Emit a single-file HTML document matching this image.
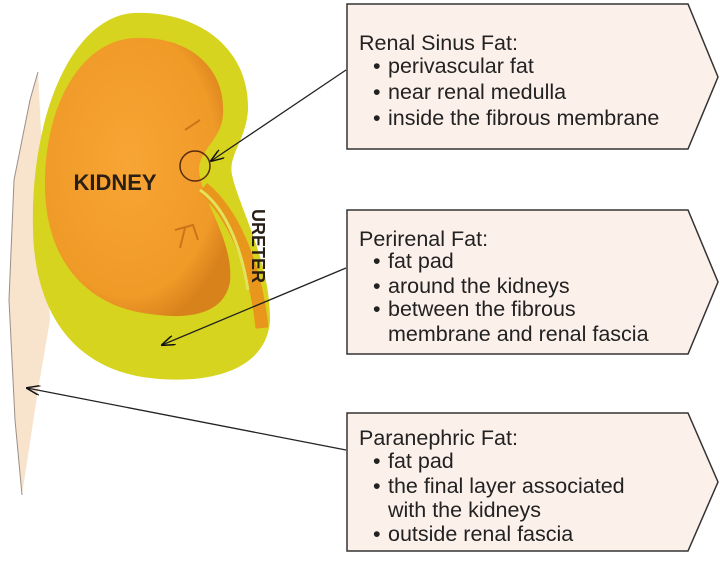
<!DOCTYPE html>
<html><head><meta charset="utf-8"><style>
html,body{margin:0;padding:0;background:#fff}
svg{display:block}
text{font-family:"Liberation Sans",Arial,sans-serif}
</style></head><body>
<svg width="720" height="561" viewBox="0 0 720 561" xmlns="http://www.w3.org/2000/svg">
<defs>
<marker id="ah" markerWidth="14" markerHeight="10" refX="13" refY="5" orient="auto" markerUnits="userSpaceOnUse">
<path d="M0,0 L14,5 L0,10" fill="none" stroke="#111" stroke-width="1.5"/>
</marker>
<radialGradient id="og" cx="0.45" cy="0.45" r="0.6">
<stop offset="0" stop-color="#f7a535"/><stop offset="0.8" stop-color="#f09a28"/><stop offset="1" stop-color="#d8821c"/>
</radialGradient>
</defs>
<polygon points="38,72 30,100 14,180 9,300 15,420 22,495 38,390 50,320 46,250 42,150" fill="#f8e3cd"/>
<path d="M38,72 30,100 14,180 9,300 15,420 22,495" fill="none" stroke="#9a8f88" stroke-width="1"/>
<path d="M133,13 C200,10 250,50 248,110 C246,140 228,155 232,175 C240,210 270,260 270,320 C267,370 210,385 150,378 C80,370 35,320 33,230 C30,120 70,18 133,13 Z" fill="#d6d41e"/>
<path d="M135,38 C192,36 226,70 223,115 C221,140 199,150 199,170 C201,200 234,240 230,282 C224,314 190,320 150,314 C88,307 47,262 45,190 C43,108 80,40 135,38 Z" fill="url(#og)"/>
<path d="M203,188 C230,210 255,260 262,328" fill="none" stroke="#e8961c" stroke-width="13"/>
<path d="M200,190 C222,205 240,240 248,290" fill="none" stroke="#e4e25a" stroke-width="3"/>
<path d="M185,130 l15,-10 M175,230 l18,-5 l5,15 M185,228 l-5,20" stroke="#c97518" stroke-width="2" fill="none"/>
<circle cx="195" cy="166" r="15" fill="none" stroke="#5a2a10" stroke-width="1.5"/>
<text x="115" y="190" font-size="22" font-weight="bold" fill="#2a1f15" text-anchor="middle">KIDNEY</text>
<text transform="translate(252,246) rotate(90)" font-size="18" font-weight="bold" fill="#2a1f15" text-anchor="middle">URETER</text>
<line x1="346" y1="70" x2="211" y2="161" stroke="#222" stroke-width="1.3" marker-end="url(#ah)"/>
<line x1="346" y1="268" x2="162" y2="345" stroke="#222" stroke-width="1.3" marker-end="url(#ah)"/>
<line x1="346" y1="450" x2="27" y2="388" stroke="#222" stroke-width="1.3" marker-end="url(#ah)"/>
<g fill="#fcf0ea" stroke="#333" stroke-width="1.5">
<polygon points="347,4 688,4 718,77 688,149 347,149"/>
<polygon points="347,210 688,210 718,282 688,354 347,354"/>
<polygon points="347,413 688,413 718,482 688,551 347,551"/>
</g>
<g font-size="21.5" fill="#222">
<text x="359" y="50">Renal Sinus Fat:</text>
<text x="373" y="73">•</text><text x="388" y="73">perivascular fat</text>
<text x="373" y="99">•</text><text x="388" y="99">near renal medulla</text>
<text x="373" y="125">•</text><text x="388" y="125">inside the fibrous membrane</text>
<text x="359" y="246">Perirenal Fat:</text>
<text x="373" y="268">•</text><text x="388" y="268">fat pad</text>
<text x="373" y="293">•</text><text x="388" y="293">around the kidneys</text>
<text x="373" y="316">•</text><text x="388" y="316">between the fibrous</text>
<text x="388" y="341">membrane and renal fascia</text>
<text x="359" y="445">Paranephric Fat:</text>
<text x="373" y="468">•</text><text x="388" y="468">fat pad</text>
<text x="373" y="493">•</text><text x="388" y="493">the final layer associated</text>
<text x="388" y="517">with the kidneys</text>
<text x="373" y="541">•</text><text x="388" y="541">outside renal fascia</text>
</g>
</svg>
</body></html>
